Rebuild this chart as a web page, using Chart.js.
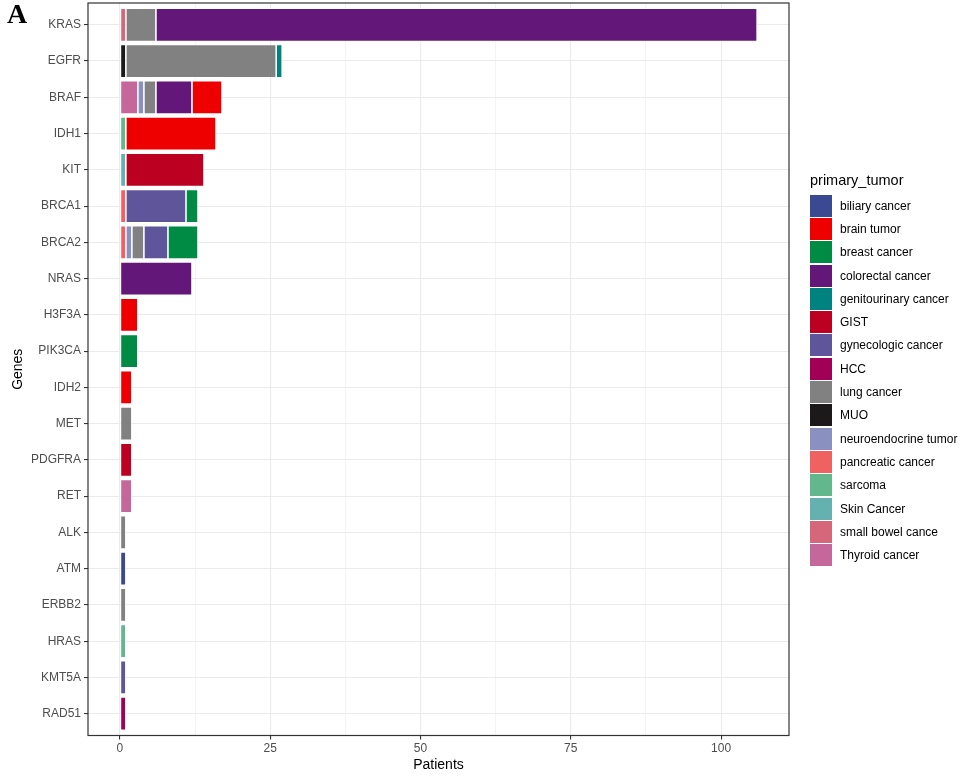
<!DOCTYPE html>
<html lang="en">
<head>
    <meta charset="UTF-8">
    <title>Genes by primary tumor</title>
    <script src="https://cdn.jsdelivr.net/npm/chart.js@4.4.0/dist/chart.umd.min.js"></script>
    <style>
        body { margin: 0; background: #fff; font-family: "Liberation Sans", Arial, sans-serif; }
        #wrap { position: relative; width: 966px; height: 781px; }
        #panel-tag { position: absolute; left: 7px; top: 0; line-height: 28px; font: bold 28px/28px "Liberation Serif", "Times New Roman", serif; }
        #legend { position: absolute; left: 810px; top: 171px; }
        #legend .title { font-size: 14.5px; height: 20px; line-height: 18px; margin-bottom: 3px; }
        #legend .row { display: flex; align-items: center; height: 23.3px; }
        #legend .key { width: 22px; height: 22px; margin-right: 8px; }
        #legend .lab { font-size: 12px; }
    </style>
</head>
<body>
<div id="wrap">
    <canvas id="myChart" width="966" height="781"></canvas>
    <div id="panel-tag">A</div>
    <div id="legend"></div>
</div>
<script>
    // genes top to bottom
    let genes = ['KRAS', 'EGFR', 'BRAF', 'IDH1', 'KIT', 'BRCA1', 'BRCA2', 'NRAS', 'H3F3A', 'PIK3CA',
        'IDH2', 'MET', 'PDGFRA', 'RET', 'ALK', 'ATM', 'ERBB2', 'HRAS', 'KMT5A', 'RAD51'];

    let tumors = ['biliary cancer', 'brain tumor', 'breast cancer', 'colorectal cancer', 'genitourinary cancer',
        'GIST', 'gynecologic cancer', 'HCC', 'lung cancer', 'MUO', 'neuroendocrine tumor',
        'pancreatic cancer', 'sarcoma', 'Skin Cancer', 'small bowel cance', 'Thyroid cancer'];

    let colors = ['#3B4992', '#EE0000', '#008B45', '#631879', '#008280',
        '#BB0021', '#5F559B', '#A20056', '#808180', '#1B1919', '#8A91C1',
        '#F06262', '#62B78C', '#64B1AF', '#D6677A', '#C6679C'];

    // patients per gene, one array per tumor type (same order as genes)
    //                 KRAS EGFR BRAF IDH1 KIT BRCA1 BRCA2 NRAS H3F3A PIK3CA IDH2 MET PDGFRA RET ALK ATM ERBB2 HRAS KMT5A RAD51
    let biliary =       [0, 0, 0, 0, 0, 0, 0, 0, 0, 0, 0, 0, 0, 0, 0, 1, 0, 0, 0, 0];
    let brain =         [0, 0, 5, 15, 0, 0, 0, 0, 3, 0, 2, 0, 0, 0, 0, 0, 0, 0, 0, 0];
    let breast =        [0, 0, 0, 0, 0, 2, 5, 0, 0, 3, 0, 0, 0, 0, 0, 0, 0, 0, 0, 0];
    let colorectal =    [100, 0, 6, 0, 0, 0, 0, 12, 0, 0, 0, 0, 0, 0, 0, 0, 0, 0, 0, 0];
    let genitourinary = [0, 1, 0, 0, 0, 0, 0, 0, 0, 0, 0, 0, 0, 0, 0, 0, 0, 0, 0, 0];
    let gist =          [0, 0, 0, 0, 13, 0, 0, 0, 0, 0, 0, 0, 2, 0, 0, 0, 0, 0, 0, 0];
    let gynecologic =   [0, 0, 0, 0, 0, 10, 4, 0, 0, 0, 0, 0, 0, 0, 0, 0, 0, 0, 1, 0];
    let hcc =           [0, 0, 0, 0, 0, 0, 0, 0, 0, 0, 0, 0, 0, 0, 0, 0, 0, 0, 0, 1];
    let lung =          [5, 25, 2, 0, 0, 0, 2, 0, 0, 0, 0, 2, 0, 0, 1, 0, 1, 0, 0, 0];
    let muo =           [0, 1, 0, 0, 0, 0, 0, 0, 0, 0, 0, 0, 0, 0, 0, 0, 0, 0, 0, 0];
    let neuroendocrine = [0, 0, 1, 0, 0, 0, 1, 0, 0, 0, 0, 0, 0, 0, 0, 0, 0, 0, 0, 0];
    let pancreatic =    [0, 0, 0, 0, 0, 1, 1, 0, 0, 0, 0, 0, 0, 0, 0, 0, 0, 0, 0, 0];
    let sarcoma =       [0, 0, 0, 1, 0, 0, 0, 0, 0, 0, 0, 0, 0, 0, 0, 0, 0, 1, 0, 0];
    let skin =          [0, 0, 0, 0, 1, 0, 0, 0, 0, 0, 0, 0, 0, 0, 0, 0, 0, 0, 0, 0];
    let smallBowel =    [1, 0, 0, 0, 0, 0, 0, 0, 0, 0, 0, 0, 0, 0, 0, 0, 0, 0, 0, 0];
    let thyroid =       [0, 0, 3, 0, 0, 0, 0, 0, 0, 0, 0, 0, 0, 2, 0, 0, 0, 0, 0, 0];

    let seriesValues = [biliary, brain, breast, colorectal, genitourinary, gist, gynecologic, hcc,
        lung, muo, neuroendocrine, pancreatic, sarcoma, skin, smallBowel, thyroid];

    let xTicks = [0, 25, 50, 75, 100];
    let xMinorTicks = [12.5, 37.5, 62.5, 87.5];

    // stacking order inside a bar: ggplot puts the last level at the left
    let order = tumors.map((t, i) => i).reverse();

    let datasets = order.map(function (i) {
        let pts = [];
        seriesValues[i].forEach(function (v, g) {
            if (v > 0) pts.push({x: v, y: g});
        });
        return {
            label: tumors[i],
            data: pts,
            backgroundColor: colors[i],
            borderColor: '#ffffff',
            borderWidth: 0.8,
            borderSkipped: false,
            stack: 'all',
            barPercentage: 0.92,
            categoryPercentage: 1
        };
    });

    // legend on the right, like ggplot
    let legendHtml = '<div class="title">primary_tumor</div>';
    tumors.forEach(function (t, i) {
        legendHtml += '<div class="row"><div class="key" style="background:' + colors[i] + '"></div>' +
            '<div class="lab">' + t + '</div></div>';
    });
    document.getElementById('legend').innerHTML = legendHtml;

    let panelBorder = {
        id: 'panelBorder',
        afterDatasetsDraw: function (chart) {
            let a = chart.chartArea, ctx = chart.ctx;
            ctx.save();
            ctx.strokeStyle = '#333333';
            ctx.lineWidth = 1.2;
            ctx.strokeRect(a.left, a.top, a.right - a.left, a.bottom - a.top);
            ctx.restore();
        }
    };

    let tickFont = {family: '"Liberation Sans", Arial, sans-serif', size: 12};
    let titleFont = {family: '"Liberation Sans", Arial, sans-serif', size: 14};

    let ctx = document.getElementById('myChart').getContext('2d');
    let chart = new Chart(ctx, {
        type: 'bar',
        data: {datasets: datasets},
        plugins: [panelBorder],
        options: {
            indexAxis: 'y',
            responsive: false,
            animation: false,
            layout: {padding: {left: 0, right: 177, top: 3, bottom: 0}},
            plugins: {legend: {display: false}, tooltip: {enabled: false}},
            scales: {
                x: {
                    type: 'linear',
                    stacked: true,
                    min: -5.3,
                    max: 111.3,
                    afterBuildTicks: function (scale) {
                        scale.ticks = xTicks.concat(xMinorTicks).sort((a, b) => a - b).map(v => ({value: v}));
                    },
                    afterFit: function (scale) {
                        scale.height = 45.5;
                        scale.paddingLeft = 0;
                        scale.paddingRight = 0;
                    },
                    ticks: {
                        color: '#4D4D4D',
                        font: tickFont,
                        padding: 2,
                        maxRotation: 0,
                        autoSkip: false,
                        callback: v => xTicks.includes(v) ? String(v) : ''
                    },
                    grid: {
                        offset: false,
                        color: '#EBEBEB',
                        lineWidth: c => xTicks.includes(c.tick.value) ? 1.1 : 0.6,
                        tickColor: c => xTicks.includes(c.tick.value) ? '#333333' : 'rgba(0,0,0,0)',
                        tickLength: 4
                    },
                    border: {display: false},
                    title: {display: true, text: 'Patients', color: '#000', font: titleFont, padding: {top: 0, bottom: 7}}
                },
                y: {
                    type: 'linear',
                    reverse: true,
                    offset: false,
                    min: -0.6,
                    max: genes.length - 0.4,
                    afterBuildTicks: function (scale) {
                        scale.ticks = genes.map((g, i) => ({value: i}));
                    },
                    afterFit: function (scale) {
                        scale.width = 88;
                        scale.paddingTop = 0;
                        scale.paddingBottom = 0;
                    },
                    ticks: {
                        color: '#4D4D4D',
                        font: tickFont,
                        padding: 3,
                        autoSkip: false,
                        callback: v => genes[v]
                    },
                    grid: {offset: false, color: '#EBEBEB', lineWidth: 1.1, tickColor: '#333333', tickLength: 4},
                    border: {display: false},
                    title: {display: true, text: 'Genes', color: '#000', font: titleFont, padding: {top: 10, bottom: 0}}
                }
            }
        }
    });
</script>
</body>
</html>
